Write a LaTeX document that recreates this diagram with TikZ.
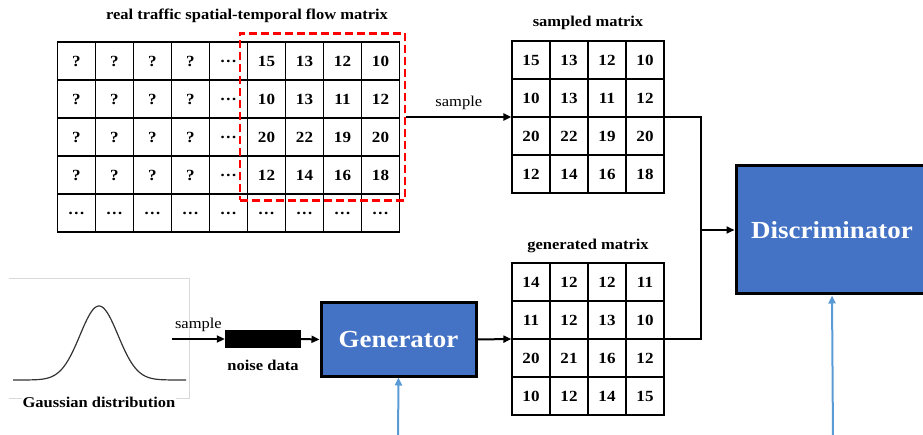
\documentclass[tikz,border=0pt]{standalone}
\usepackage{fontspec}
\setmainfont{Liberation Serif}[FakeStretch=1.1]
\usetikzlibrary{matrix,arrows.meta}
\definecolor{boxblue}{HTML}{4472C4}
\definecolor{lineblue}{HTML}{5B9BD5}
\definecolor{framegray}{HTML}{D9D9D9}
\begin{document}
\begin{tikzpicture}[x=1pt,y=-1pt,
  plain/.style={font=\fontsize{15}{18}\selectfont},
  boldtxt/.style={font=\fontsize{15}{18}\selectfont\bfseries},
  grid/.style={matrix of nodes, inner sep=0pt, outer sep=0pt, column sep=-1.3pt, row sep=-1.3pt,
    nodes={draw, line width=1.3pt, minimum width=38pt, minimum height=38pt,
      inner sep=0pt, outer sep=0pt, anchor=center, font=\fontsize{15.5}{18}\selectfont\bfseries}},
  netbox/.style={draw=black, line width=3pt, fill=boxblue, text=white, inner sep=0pt,
    font=\fontsize{24.5}{28}\selectfont\bfseries},
  conn/.style={line width=2pt, black},
  arr/.style={conn, -{Triangle[length=8pt,width=7pt]}},
  bluearr/.style={line width=2pt, lineblue, -{Triangle[length=8pt,width=7pt]}},
  selbox/.style={draw=red, line width=2.5pt, dash pattern=on 8pt off 4pt, inner sep=0pt}
]
\useasboundingbox (0,0) rectangle (923,435);
\clip (0,0) rectangle (923,435);

% big matrix
\matrix (big) [grid] at (228.5,137) {
 ? & ? & ? & ? & … & 15 & 13 & 12 & 10 \\
 ? & ? & ? & ? & … & 10 & 13 & 11 & 12 \\
 ? & ? & ? & ? & … & 20 & 22 & 19 & 20 \\
 ? & ? & ? & ? & … & 12 & 14 & 16 & 18 \\
 … & … & … & … & … & … & … & … & … \\
};
\node[boldtxt] (bigtitle) at (247,16) {real traffic spatial-temporal flow matrix};
\node[selbox, minimum width=165pt, minimum height=167pt] (sel) at (322.5,117) {};

% sampled matrix
\matrix (samp) [grid] at (588,117) {
 15 & 13 & 12 & 10 \\
 10 & 13 & 11 & 12 \\
 20 & 22 & 19 & 20 \\
 12 & 14 & 16 & 18 \\
};
\node[boldtxt] (samptitle) at (588,23) {sampled matrix};

% generated matrix
\matrix (genm) [grid] at (588,339) {
 14 & 12 & 12 & 11 \\
 11 & 12 & 13 & 10 \\
 20 & 21 & 16 & 12 \\
 10 & 12 & 14 & 15 \\
};
\node[boldtxt] (gentitle) at (588,246) {generated matrix};

% discriminator and generator
\node[netbox, minimum width=192pt, minimum height=128pt] (disc) at (832,230) {Discriminator};
\node[netbox, minimum width=155pt, minimum height=73pt] (gen) at (398.5,339.5) {Generator};

% noise
\node[fill=black, minimum width=76pt, minimum height=18pt, inner sep=0pt] (noise) at (263,339) {};
\node[boldtxt] (noiselbl) at (263,365) {noise data};

% gaussian
\draw[framegray, line width=0.8pt] (9,278) -- (189,278) -- (189,398) -- (9,398);
\draw[line width=1.2pt, black!80] plot[domain=13:186, samples=120]
  (\x, {380 - 74*exp(-((\x-99)^2)/(2*19^2))});
\node[boldtxt, fill=white, inner sep=1pt] (gauss) at (99,402) {Gaussian distribution};

% connectors
\coordinate (gsrc) at (172,339);
\draw[arr] (gsrc) -- (noise.west) node[midway, above=3pt, plain] {sample};
\draw[arr] (noise.east) -- (gen.west);
\draw[arr] (gen.east) -- (genm.west);
\draw[arr] (sel.east) -- (samp.west) node[midway, above=3pt, plain] {sample};
\coordinate (join) at (701,230);
\draw[conn] (samp.east) -| (join);
\draw[conn] (genm.east) -| (join);
\draw[arr] (join) -- (disc.west);

\coordinate (gbot) at (398,440);
\coordinate (dbot) at (833,440);
\draw[bluearr] (gbot) -- (gen.south);
\draw[bluearr] (dbot) -- (disc.south);
\end{tikzpicture}
\end{document}
